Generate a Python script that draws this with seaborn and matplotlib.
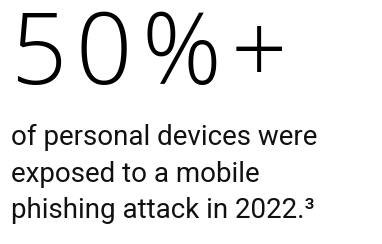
import seaborn as sns
import matplotlib.pyplot as plt

# Headline figure and the caption lines underneath it
headline = "50%+"
caption_lines = [
    "of personal devices were",
    "exposed to a mobile",
    "phishing attack in 2022.\u00b3",
]

sns.set_theme(style="white")
plt.rcParams['font.family'] = ['Roboto', 'DejaVu Sans']

W, H = 382, 244
fig = plt.figure(figsize=(W / 100, H / 100), dpi=100)
fig.patch.set_facecolor("white")
renderer = fig.canvas.get_renderer()

# Big number: drawn letter by letter so the tracking can be opened up
big_font = dict(fontsize=71, fontweight="light", family=["Open Sans", "DejaVu Sans"],
                color="black", va="baseline", ha="left")
x0, x1 = 10, 287
pieces = [fig.text(0, 1 - 84 / H, ch, **big_font) for ch in headline]
widths = [p.get_window_extent(renderer).width for p in pieces]
gap = (x1 - x0 - sum(widths)) / (len(pieces) - 1)
x = x0
for p, w in zip(pieces, widths):
    p.set_x(x / W)
    x += w + gap

# Caption, one line per baseline
baselines = [145, 182, 218]
for line, y in zip(caption_lines, baselines):
    fig.text(11 / W, 1 - y / H, line, fontsize=20, fontweight="normal",
             color="#111111", va="baseline", ha="left")

fig.savefig("out.png", dpi=100, facecolor="white")
